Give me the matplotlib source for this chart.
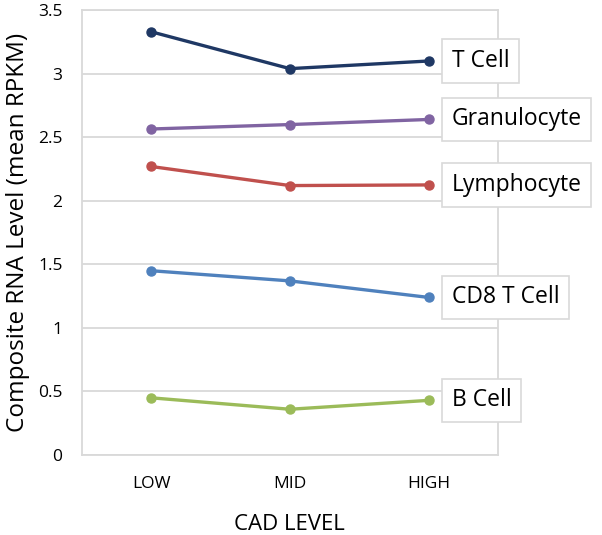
import matplotlib.pyplot as plt

## data
levels = ['LOW', 'MID', 'HIGH']
t_cell = [3.33, 3.04, 3.10]
granulocyte = [2.565, 2.60, 2.64]
lymphocyte = [2.27, 2.12, 2.125]
cd8_t_cell = [1.45, 1.37, 1.24]
b_cell = [0.45, 0.36, 0.43]

series = [('T Cell', t_cell, '#1F3864'),
          ('Granulocyte', granulocyte, '#8064A2'),
          ('Lymphocyte', lymphocyte, '#C0504D'),
          ('CD8 T Cell', cd8_t_cell, '#4F81BD'),
          ('B Cell', b_cell, '#9BBB59')]

plt.rcParams['font.family'] = ['Open Sans', 'DejaVu Sans']

fig = plt.figure(figsize=(6.02, 5.35), dpi=100)
ax = fig.add_axes([0.136, 0.1495, 0.691, 0.8315])

x = list(range(len(levels)))
for name, vals, col in series:
    ax.plot(x, vals, color=col, lw=2.4, marker='o', markersize=6.5, zorder=3)
    ax.annotate(name, (x[-1], vals[-1]), xytext=(23, 0), textcoords='offset pixels',
                va='center', ha='left', fontsize=16.5, annotation_clip=False,
                bbox=dict(boxstyle='square,pad=0.42', fc='white', ec='#D9D9D9', lw=1.2),
                zorder=4)

ax.set_xlim(-0.5, 2.5)
ax.set_ylim(0, 3.5)
ax.set_xticks(x)
ax.set_xticklabels(levels)
ax.set_yticks([0, 0.5, 1, 1.5, 2, 2.5, 3, 3.5])
ax.set_yticklabels(['0', '0.5', '1', '1.5', '2', '2.5', '3', '3.5'])
ax.tick_params(length=0, labelsize=12.5)
ax.tick_params(axis='x', pad=15)
ax.tick_params(axis='y', pad=14)
ax.grid(axis='y', color='#D9D9D9', lw=1.3)
ax.set_axisbelow(True)
for s in ax.spines.values():
    s.set_color('#D9D9D9')
    s.set_linewidth(1.3)

ax.set_xlabel('CAD LEVEL', fontsize=16, labelpad=16)
ax.set_ylabel('Composite RNA Level (mean RPKM)', fontsize=17.5, labelpad=6)

plt.savefig('out.png', dpi=100)
